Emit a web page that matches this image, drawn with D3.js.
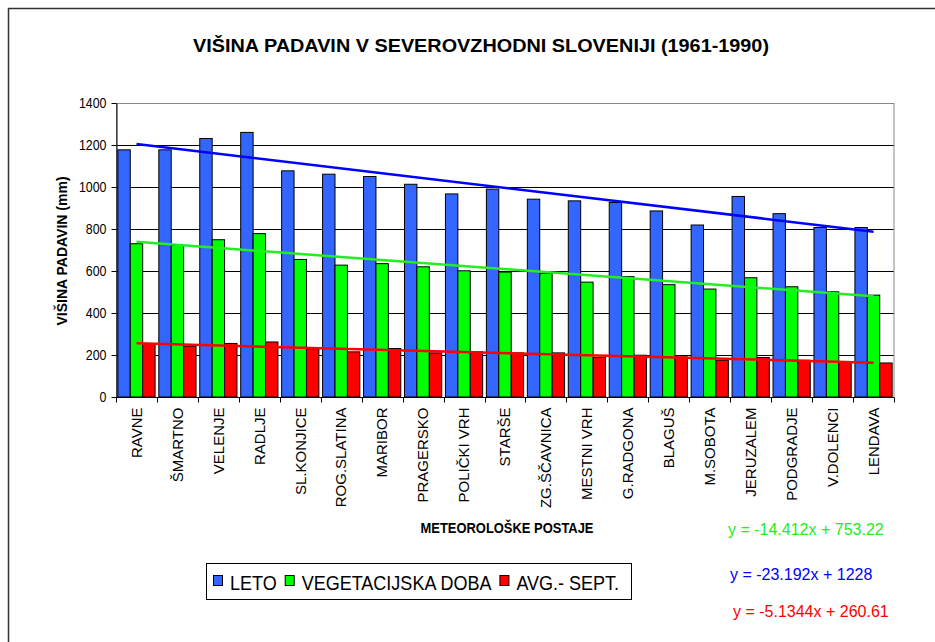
<!DOCTYPE html>
<html>
<head>
<meta charset="utf-8">
<script src="https://cdn.jsdelivr.net/npm/d3@7"></script>
<style>
  body { margin: 0; background: #fff; }
  text { font-family: "Liberation Sans", Arial, sans-serif; }
</style>
</head>
<body>
<script>
// postaje in vrednosti (mm), odčitane s slike
var stations = ["RAVNE", "ŠMARTNO", "VELENJE", "RADLJE", "SL.KONJICE", "ROG.SLATINA", "MARIBOR",
  "PRAGERSKO", "POLIČKI VRH", "STARŠE", "ZG.ŠČAVNICA", "MESTNI VRH", "G.RADGONA", "BLAGUŠ",
  "M.SOBOTA", "JERUZALEM", "PODGRADJE", "V.DOLENCI", "LENDAVA"];
var leto = [1177, 1177, 1231, 1260, 1077, 1061, 1050, 1013, 967, 990, 942, 934, 926, 886, 819, 955, 873, 807, 807];
var vegetacija = [730, 722, 749, 778, 655, 628, 635, 620, 601, 595, 589, 547, 573, 535, 514, 568, 525, 501, 485];
var avgSept = [255, 242, 255, 262, 229, 215, 231, 210, 215, 210, 210, 188, 199, 191, 175, 188, 175, 167, 162];
var seriesNames = ["LETO", "VEGETACIJSKA DOBA", "AVG.- SEPT."];
// trendne črte: naklon, presečišče (iz enačb na grafu)
var trendSlopes = [-23.192, -14.412, -5.1344];
var trendIntercepts = [1228, 753.22, 260.61];
var trendLabels = ["y = -23.192x + 1228", "y = -14.412x + 753.22", "y = -5.1344x + 260.61"];
var yTicks = [0, 200, 400, 600, 800, 1000, 1200, 1400];

var barColors = ["#3366FF", "#00FF00", "#FF0000"];
var lineColors = ["#0000FF", "#22EE22", "#FF0000"];

var width = 935, height = 642;
var svg = d3.select("body").append("svg")
    .attr("width", width)
    .attr("height", height);

// stisni vodoravno besedilo (graf je bil stisnjen po širini), vrne novo širino
function squeeze(sel, ratio) {
  var total = 0;
  sel.each(function() {
    var w = this.getComputedTextLength() * ratio;
    d3.select(this).attr("textLength", w).attr("lengthAdjust", "spacingAndGlyphs");
    total = w;
  });
  return total;
}

svg.append("rect")
    .attr("x", 8.5).attr("y", 8.5)
    .attr("width", 960).attr("height", 680)
    .attr("fill", "none")
    .attr("stroke", "#333")
    .attr("stroke-width", 1.5);

var x = d3.scaleBand()
    .domain(stations)
    .range([116, 894]);
var xs = d3.scaleBand()
    .domain(seriesNames)
    .range([0, x.bandwidth()])
    .paddingOuter(0.15);
var y = d3.scaleLinear()
    .domain([0, 1400])
    .range([397, 103]);

// mreža
svg.append("g")
  .selectAll("line")
  .data(yTicks.filter(d => d > 0 && d < 1400))
  .enter()
  .append("line")
    .attr("x1", 116).attr("x2", 894)
    .attr("y1", d => Math.round(y(d)) + 0.5)
    .attr("y2", d => Math.round(y(d)) + 0.5)
    .attr("stroke", "#000")
    .attr("stroke-width", 1);

svg.append("rect")
    .attr("x", 116.5).attr("y", Math.round(y(1400)) + 0.5)
    .attr("width", 894 - 116.5).attr("height", y(0) - y(1400))
    .attr("fill", "none")
    .attr("stroke", "#888");

// stolpci
var data = [leto, vegetacija, avgSept];
var groups = svg.append("g")
  .selectAll("g")
  .data(data)
  .enter()
  .append("g")
    .attr("fill", (d, i) => barColors[i]);

groups.selectAll("rect")
  .data((d, i) => d.map((v, j) => ({ v: v, s: seriesNames[i], st: stations[j] })))
  .enter()
  .append("rect")
    .attr("x", d => x(d.st) + xs(d.s))
    .attr("y", d => y(d.v))
    .attr("width", xs.bandwidth())
    .attr("height", d => y(0) - y(d.v))
    .attr("stroke", "#000")
    .attr("stroke-width", 1);

// trendne črte
var line = d3.line()
    .x(d => x(stations[d.i - 1]) + x.bandwidth() / 2)
    .y(d => y(d.v));

svg.append("g")
  .selectAll("path")
  .data(trendSlopes.map((k, s) => [1, stations.length].map(i => ({ i: i, v: k * i + trendIntercepts[s] }))))
  .enter()
  .append("path")
    .attr("d", line)
    .attr("fill", "none")
    .attr("stroke", (d, i) => lineColors[i])
    .attr("stroke-width", 2.5);

// os y
var yAxis = svg.append("g")
    .attr("transform", "translate(116.5,0)")
    .call(d3.axisLeft(y).tickValues(yTicks).tickFormat(d3.format("d"))
      .tickSize(5).tickPadding(5).tickSizeOuter(0));
yAxis.select(".domain").attr("stroke", "#000");
yAxis.selectAll("text")
    .attr("font-size", 15.5)
    .attr("fill", "#000")
    .attr("font-family", "Liberation Sans, Arial, sans-serif");
yAxis.selectAll("text").each(function() { squeeze(d3.select(this), 0.8); });

// os x
var xAxis = svg.append("g")
    .attr("transform", "translate(0,397.5)");
xAxis.append("line")
    .attr("x1", 116).attr("x2", 894)
    .attr("stroke", "#000");
xAxis.selectAll(".tk")
  .data(stations.concat(["_end"]))
  .enter()
  .append("line")
    .attr("class", "tk")
    .attr("x1", (d, i) => Math.round(116 + i * x.step()) + 0.5)
    .attr("x2", (d, i) => Math.round(116 + i * x.step()) + 0.5)
    .attr("y1", 0).attr("y2", 5)
    .attr("stroke", "#000");
xAxis.selectAll("text")
  .data(stations)
  .enter()
  .append("text")
    .attr("transform", d => `translate(${x(d) + x.bandwidth() / 2},10) rotate(-90)`)
    .attr("dy", "0.35em")
    .attr("text-anchor", "end")
    .attr("font-size", 15)
    .text(d => d);

// naslovi
svg.append("text")
    .attr("x", 193).attr("y", 52)
    .attr("font-size", 19)
    .attr("font-weight", "bold")
    .attr("textLength", 576)
    .attr("lengthAdjust", "spacingAndGlyphs")
    .text("VIŠINA PADAVIN V SEVEROVZHODNI SLOVENIJI (1961-1990)");

svg.append("text")
    .attr("transform", "translate(67,251) rotate(-90)")
    .attr("text-anchor", "middle")
    .attr("font-size", 14)
    .attr("font-weight", "bold")
    .text("VIŠINA PADAVIN (mm)");

svg.append("text")
    .attr("x", 507).attr("y", 533)
    .attr("text-anchor", "middle")
    .attr("font-size", 15)
    .attr("font-weight", "bold")
    .attr("textLength", 173)
    .attr("lengthAdjust", "spacingAndGlyphs")
    .text("METEOROLOŠKE POSTAJE");

// legenda
var legend = svg.append("g");
legend.append("rect")
    .attr("x", 206.5).attr("y", 563.5)
    .attr("width", 425).attr("height", 36)
    .attr("fill", "#fff")
    .attr("stroke", "#000");
var lx = 213;
seriesNames.forEach((name, i) => {
  legend.append("rect")
      .attr("x", lx + 0.5).attr("y", 575.5)
      .attr("width", 9).attr("height", 10)
      .attr("fill", barColors[i])
      .attr("stroke", "#000");
  var t = legend.append("text")
      .attr("x", lx + 17).attr("y", 590)
      .attr("font-size", 20)
      .text(name);
  var w = squeeze(t, 0.9);
  lx = lx + 17 + w + 8;
});

// enačbe trendov
var eqX = [730, 728, 733];
var eqY = [580, 535, 617];
svg.append("g")
  .selectAll("text")
  .data(trendLabels)
  .enter()
  .append("text")
    .attr("x", (d, i) => eqX[i])
    .attr("y", (d, i) => eqY[i])
    .attr("font-size", 16)
    .attr("fill", (d, i) => lineColors[i])
    .text(d => d);
</script>
</body>
</html>
